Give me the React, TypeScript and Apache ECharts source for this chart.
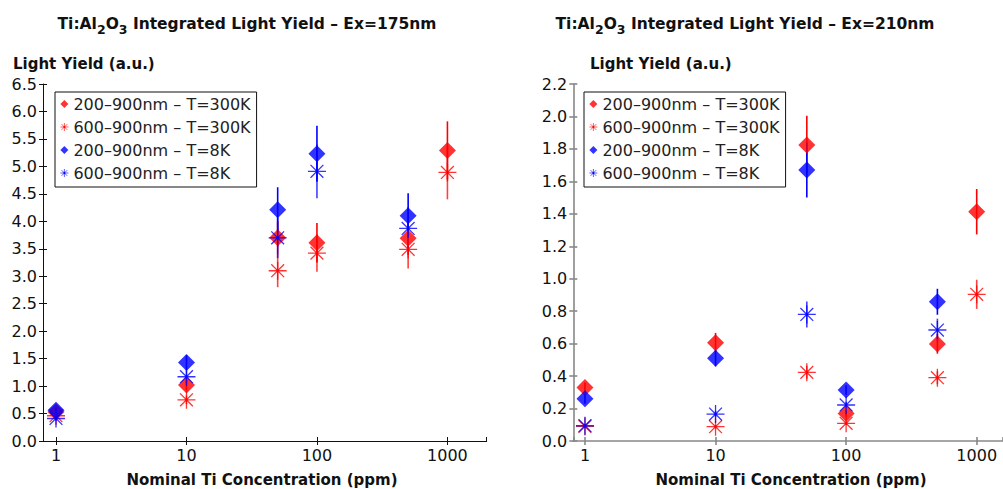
import { useEffect, useRef } from 'react';
import * as echarts from 'echarts';

// ---------- data ----------
const concentrations = [1, 10, 50, 100, 500, 1000];
const seriesNames = ['200–900nm – T=300K', '600–900nm – T=300K', '200–900nm – T=8K', '600–900nm – T=8K'];
const xTickLabels = ['1', '10', '100', '1000'];

// Ex = 175 nm
const ly175_200_300K = [0.53, 1.02, 3.70, 3.61, 3.69, 5.29];
const err175_200_300K = [0.05, 0.10, 0.30, 0.36, 0.30, 0.53];
const ly175_600_300K = [0.46, 0.75, 3.10, 3.42, 3.49, 4.89];
const err175_600_300K = [0.05, 0.08, 0.30, 0.34, 0.35, 0.49];
const ly175_200_8K = [0.56, 1.43, 4.21, 5.23, 4.10, null];
const err175_200_8K = [0.05, 0.13, 0.41, 0.51, 0.41, null];
const ly175_600_8K = [0.41, 1.17, 3.70, 4.91, 3.87, null];
const err175_600_8K = [0.04, 0.12, 0.37, 0.49, 0.39, null];

// Ex = 210 nm
const ly210_200_300K = [0.33, 0.606, 1.824, 0.17, 0.598, 1.413];
const err210_200_300K = [0.03, 0.06, 0.18, 0.02, 0.06, 0.14];
const ly210_600_300K = [0.09, 0.088, 0.423, 0.109, 0.39, 0.904];
const err210_600_300K = [0.01, 0.01, 0.04, 0.01, 0.04, 0.09];
const ly210_200_8K = [0.26, 0.51, 1.67, 0.314, 0.858, null];
const err210_200_8K = [0.03, 0.05, 0.17, 0.03, 0.08, null];
const ly210_600_8K = [0.094, 0.166, 0.78, 0.222, 0.684, null];
const err210_600_8K = [0.01, 0.02, 0.08, 0.02, 0.07, null];

const yMax175 = 6.5;
const yStep175 = 0.5;
const yMax210 = 2.2;
const yStep210 = 0.2;

// ---------- styling ----------
const FONT = 'DejaVu Sans';
const RED = '#ff0000';
const BLUE = '#0000ff';
const STAR_PATH = 'path://M0,8L16,8M8,0L8,16M2.3,2.3L13.7,13.7M13.7,2.3L2.3,13.7M7,7L9,7L9,9L7,9Z';

type Val = number | null;

function pts(y: Val[]) {
  const out: number[][] = [];
  y.forEach((v, i) => { if (v != null) out.push([concentrations[i], v]); });
  return out;
}
function errs(y: Val[], e: Val[]) {
  const out: number[][] = [];
  y.forEach((v, i) => { const d = e[i]; if (v != null && d != null) out.push([concentrations[i], v - d, v + d]); });
  return out;
}

function groupSeries(xi: number, yi: number, sets: { y: Val[]; e: Val[] }[]) {
  const styles = [
    { color: RED, star: false },
    { color: RED, star: true },
    { color: BLUE, star: false },
    { color: BLUE, star: true },
  ];
  const out: any[] = [];
  sets.forEach((s, k) => {
    const st = styles[k];
    const op = st.star ? 0.75 : 1;
    out.push({
      type: 'custom',
      name: 'err' + xi + '-' + k,
      xAxisIndex: xi,
      yAxisIndex: yi,
      data: errs(s.y, s.e),
      encode: { x: 0, y: [1, 2] },
      renderItem: (params: any, api: any) => {
        const x = api.value(0);
        const p1 = api.coord([x, api.value(1)]);
        const p2 = api.coord([x, api.value(2)]);
        return {
          type: 'line',
          shape: { x1: p1[0], y1: p1[1], x2: p2[0], y2: p2[1] },
          style: { stroke: st.color, lineWidth: 1.6, opacity: op },
        };
      },
      silent: true,
    });
    out.push({
      type: 'scatter',
      name: seriesNames[k],
      xAxisIndex: xi,
      yAxisIndex: yi,
      data: pts(s.y),
      symbol: st.star ? STAR_PATH : 'diamond',
      symbolSize: st.star ? 18 : 17,
      itemStyle: st.star
        ? { color: st.color, borderColor: st.color, borderWidth: 1.3, opacity: 0.8 }
        : { color: st.color, borderWidth: 0 },
      silent: true,
    });
  });
  return out;
}

function xFormatter(v: number) {
  const l = Math.log10(v);
  if (Math.abs(l - Math.round(l)) < 1e-6) {
    const s = String(Math.round(v));
    return xTickLabels.includes(s) ? s : '';
  }
  return '';
}

function makeXAxes(gridIndex: number, dupGrid: number, min: number, max: number, color: string, lw: number) {
  return [
    {
      type: 'log', logBase: 10, gridIndex, min, max,
      axisLine: { show: true, lineStyle: { color, width: lw } },
      axisTick: { show: true, length: 4, lineStyle: { color, width: lw } },
      axisLabel: { formatter: xFormatter, fontFamily: FONT, fontSize: 16, color: '#111', margin: 6, showMinLabel: false, showMaxLabel: false },
      splitLine: { show: false },
    },
    {
      type: 'log', logBase: 10, gridIndex: dupGrid, min, max,
      axisLine: { show: false },
      axisTick: { show: true, inside: true, length: 4, lineStyle: { color, width: lw } },
      axisLabel: { show: false },
      splitLine: { show: false },
    },
  ];
}

function makeYAxes(gridIndex: number, dupGrid: number, max: number, step: number, color: string, lw: number) {
  return [
    {
      type: 'value', gridIndex, min: 0, max, interval: step,
      axisLine: { show: true, lineStyle: { color, width: lw } },
      axisTick: { show: true, length: 4, lineStyle: { color, width: lw } },
      axisLabel: { formatter: (v: number) => v.toFixed(1), fontFamily: FONT, fontSize: 16, color: '#111', margin: 6 },
      splitLine: { show: false },
    },
    {
      type: 'value', gridIndex: dupGrid, min: 0, max, interval: step,
      axisLine: { show: false },
      axisTick: { show: true, inside: true, length: 4, lineStyle: { color, width: lw } },
      axisLabel: { show: false },
      splitLine: { show: false },
    },
  ];
}

function titleText(ex: string) {
  return '{b|Ti:Al}{s|2}{b|O}{s|3}{b| Integrated Light Yield – Ex=' + ex + '}';
}
const titleRich = {
  b: { fontFamily: FONT, fontSize: 15.5, fontWeight: 'bold', fill: '#111', lineHeight: 24, verticalAlign: 'middle' },
  s: { fontFamily: FONT, fontSize: 12.5, fontWeight: 'bold', fill: '#111', lineHeight: 12, verticalAlign: 'bottom' },
};

function legendCfg(left: number) {
  return {
    left, top: 92,
    orient: 'vertical',
    data: seriesNames,
    selectedMode: false,
    itemWidth: 8, itemHeight: 8, itemGap: 7,
    padding: [4, 6, 6, 5],
    itemStyle: { borderWidth: 0.8 },
    borderColor: '#111', borderWidth: 1,
    backgroundColor: '#fff',
    textStyle: { fontFamily: FONT, fontSize: 16, color: '#222' },
  };
}

export default function App() {
  const ref = useRef<HTMLDivElement>(null);
  useEffect(() => {
    if (!ref.current) return;
    const chart = echarts.init(ref.current, undefined, { renderer: 'svg' });
    const gL = { left: 43, top: 84, width: 443.7, height: 357 };
    const gR = { left: 573.3, top: 84, width: 429.7, height: 357 };
    const option: any = {
      animation: false,
      backgroundColor: '#fff',
      grid: [gL, gL, gR, gR],
      xAxis: [
        ...makeXAxes(0, 1, 0.795, 2000, '#111', 1),
        ...makeXAxes(2, 3, 0.814, 1590, '#888', 1.6),
      ],
      yAxis: [
        ...makeYAxes(0, 1, yMax175, yStep175, '#111', 1),
        ...makeYAxes(2, 3, yMax210, yStep210, '#888', 1.6),
      ],
      legend: [legendCfg(55), legendCfg(584)],
      series: [
        ...groupSeries(0, 0, [
          { y: ly175_200_300K, e: err175_200_300K },
          { y: ly175_600_300K, e: err175_600_300K },
          { y: ly175_200_8K, e: err175_200_8K },
          { y: ly175_600_8K, e: err175_600_8K },
        ]),
        ...groupSeries(2, 2, [
          { y: ly210_200_300K, e: err210_200_300K },
          { y: ly210_600_300K, e: err210_600_300K },
          { y: ly210_200_8K, e: err210_200_8K },
          { y: ly210_600_8K, e: err210_600_8K },
        ]),
      ],
      graphic: [
        { type: 'text', x: 247, y: 24, style: { text: titleText('175nm'), rich: titleRich, align: 'center', verticalAlign: 'middle' } },
        { type: 'text', x: 745, y: 24, style: { text: titleText('210nm'), rich: titleRich, align: 'center', verticalAlign: 'middle' } },
        { type: 'text', x: 13, y: 64, style: { text: 'Light Yield (a.u.)', fontFamily: FONT, fontSize: 15, fontWeight: 'bold', fill: '#111', align: 'left', verticalAlign: 'middle' } },
        { type: 'text', x: 590, y: 64, style: { text: 'Light Yield (a.u.)', fontFamily: FONT, fontSize: 15, fontWeight: 'bold', fill: '#111', align: 'left', verticalAlign: 'middle' } },
        { type: 'text', x: 262, y: 480, style: { text: 'Nominal Ti Concentration (ppm)', fontFamily: FONT, fontSize: 15, fontWeight: 'bold', fill: '#111', align: 'center', verticalAlign: 'middle' } },
        { type: 'text', x: 791, y: 480, style: { text: 'Nominal Ti Concentration (ppm)', fontFamily: FONT, fontSize: 15, fontWeight: 'bold', fill: '#111', align: 'center', verticalAlign: 'middle' } },
      ],
    };
    chart.setOption(option);
    return () => chart.dispose();
  }, []);
  return <div ref={ref} style={{ position: 'fixed', left: 0, top: 0, width: 1003, height: 489 }} />;
}
